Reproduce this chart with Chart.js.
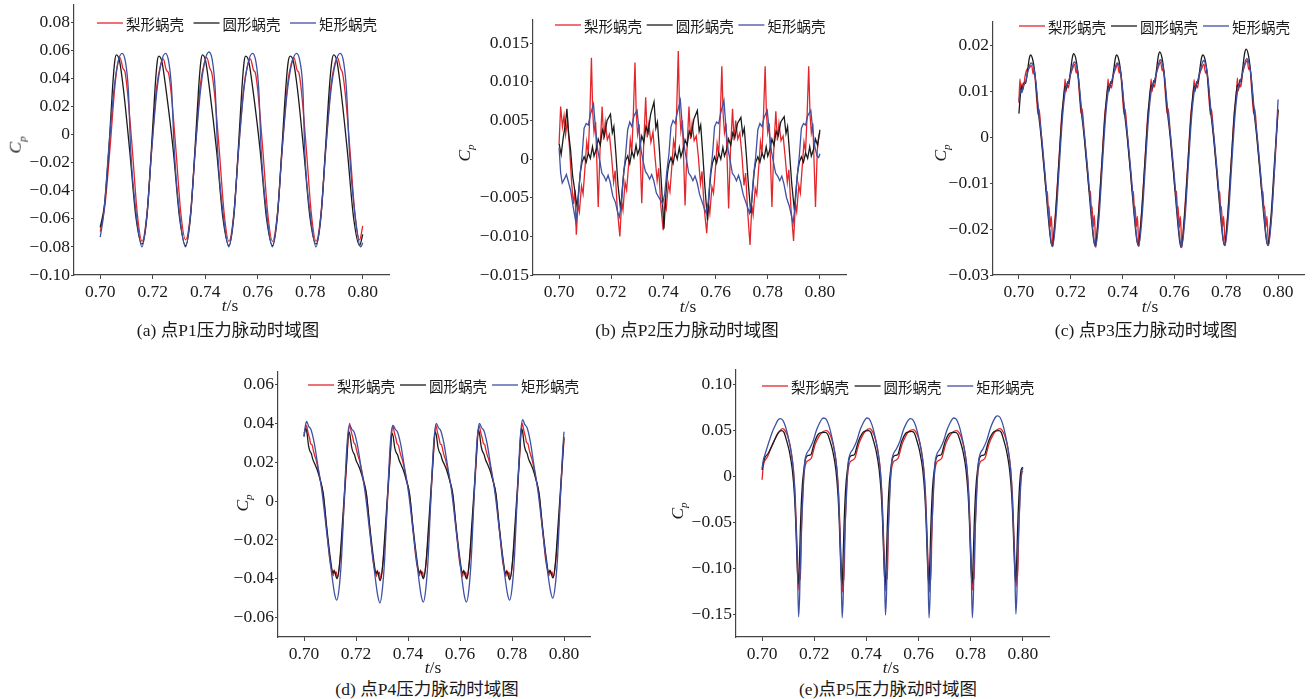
<!DOCTYPE html>
<html lang="zh">
<head>
<meta charset="utf-8">
<title>蜗壳压力脉动时域图</title>
<script src="https://cdn.jsdelivr.net/npm/chart.js@4.4.1/dist/chart.umd.min.js"></script>
<style>
  html, body { margin: 0; padding: 0; background: #fff; }
  #page { position: relative; width: 1313px; height: 699px; overflow: hidden; background: #fff; }
  canvas { position: absolute; }
  .lbl { position: absolute; font-family: "Liberation Serif", "Noto Sans CJK SC", serif; color: #1a1a1a; white-space: nowrap; transform: translate(-50%, -50%); line-height: 1; }
  .xt { font-size: 17.5px; }
  .yt { font-size: 17.5px; transform: translate(-50%, -50%) rotate(-90deg); }
  .yt sub { font-size: 11px; }
  .cap { font-size: 17.5px; }
</style>
</head>
<body>
<div id="page">
  <canvas id="ca"></canvas>
  <canvas id="cb"></canvas>
  <canvas id="cc"></canvas>
  <canvas id="cd"></canvas>
  <canvas id="ce"></canvas>

  <div class="lbl yt" style="left:17px;top:145px"><i>C</i><sub><i>p</i></sub></div>
  <div class="lbl yt" style="left:466px;top:153px"><i>C</i><sub><i>p</i></sub></div>
  <div class="lbl yt" style="left:942px;top:153px"><i>C</i><sub><i>p</i></sub></div>
  <div class="lbl yt" style="left:244px;top:503px"><i>C</i><sub><i>p</i></sub></div>
  <div class="lbl yt" style="left:679px;top:511px"><i>C</i><sub><i>p</i></sub></div>

  <div class="lbl xt" style="left:230px;top:306px"><i>t</i>/s</div>
  <div class="lbl xt" style="left:688px;top:307px"><i>t</i>/s</div>
  <div class="lbl xt" style="left:1150px;top:307px"><i>t</i>/s</div>
  <div class="lbl xt" style="left:433px;top:668px"><i>t</i>/s</div>
  <div class="lbl xt" style="left:891px;top:668px"><i>t</i>/s</div>

  <div class="lbl cap" style="left:228px;top:331px">(a) 点P1压力脉动时域图</div>
  <div class="lbl cap" style="left:687px;top:331px">(b) 点P2压力脉动时域图</div>
  <div class="lbl cap" style="left:1146px;top:331px">(c) 点P3压力脉动时域图</div>
  <div class="lbl cap" style="left:427px;top:690px">(d) 点P4压力脉动时域图</div>
  <div class="lbl cap" style="left:888px;top:690px">(e)点P5压力脉动时域图</div>
</div>
<script>
// series names / colours
const seriesNames = ["梨形蜗壳", "圆形蜗壳", "矩形蜗壳"];
const seriesColors = ["#e3262b", "#1b1b1b", "#3f51a3"];

// shared time axis
const xTicks = [0.70, 0.72, 0.74, 0.76, 0.78, 0.80];
const xLabels = ["0.70", "0.72", "0.74", "0.76", "0.78", "0.80"];

// ------- (a) P1 -------
const aTicks = [-0.10, -0.08, -0.06, -0.04, -0.02, 0, 0.02, 0.04, 0.06, 0.08];
const aLabels = ["−0.10", "−0.08", "−0.06", "−0.04", "−0.02", "0", "0.02", "0.04", "0.06", "0.08"];
const aRed = [
  [0.7000,-0.069],[0.7018,-0.050],[0.7037,-0.010],[0.7056,0.035],[0.7067,0.051],[0.7075,0.055],[0.7087,0.047],[0.7094,0.045],[0.7104,0.030],[0.7122,-0.010],[0.7141,-0.056],
  [0.7159,-0.076],[0.7178,-0.056],[0.7196,-0.010],[0.7215,0.034],[0.7230,0.050],[0.7240,0.054],[0.7252,0.046],[0.7260,0.044],[0.7270,0.030],[0.7288,-0.010],[0.7307,-0.056],
  [0.7325,-0.075],[0.7344,-0.056],[0.7362,-0.010],[0.7381,0.035],[0.7396,0.051],[0.7406,0.055],[0.7418,0.047],[0.7425,0.044],[0.7435,0.030],[0.7453,-0.010],[0.7472,-0.056],
  [0.7490,-0.076],[0.7509,-0.056],[0.7527,-0.010],[0.7547,0.034],[0.7562,0.050],[0.7572,0.054],[0.7584,0.046],[0.7591,0.044],[0.7601,0.030],[0.7619,-0.010],[0.7638,-0.056],
  [0.7656,-0.076],[0.7675,-0.056],[0.7693,-0.010],[0.7713,0.035],[0.7728,0.051],[0.7738,0.055],[0.7750,0.046],[0.7757,0.044],[0.7767,0.030],[0.7785,-0.010],[0.7804,-0.056],
  [0.7822,-0.076],[0.7841,-0.056],[0.7859,-0.010],[0.7879,0.035],[0.7894,0.051],[0.7904,0.055],[0.7916,0.047],[0.7923,0.044],[0.7933,0.030],[0.7951,-0.010],[0.7970,-0.056],
  [0.7988,-0.075],[0.8000,-0.065]
];
const aBlack = [
  [0.7000,-0.066],[0.7016,-0.050],[0.7033,-0.010],[0.7047,0.034],[0.7055,0.052],
  [0.7061,0.057],[0.7073,0.053],[0.7088,0.033],[0.7112,-0.011],[0.7136,-0.059],
  [0.7159,-0.078],[0.7178,-0.058],[0.7195,-0.010],[0.7209,0.034],[0.7217,0.052],
  [0.7223,0.056],[0.7235,0.052],[0.7250,0.033],[0.7278,-0.011],[0.7302,-0.059],
  [0.7325,-0.079],[0.7344,-0.058],[0.7361,-0.010],[0.7375,0.034],[0.7383,0.052],
  [0.7389,0.057],[0.7401,0.053],[0.7416,0.033],[0.7443,-0.011],[0.7467,-0.059],
  [0.7490,-0.079],[0.7509,-0.058],[0.7526,-0.010],[0.7540,0.034],[0.7548,0.052],
  [0.7554,0.056],[0.7566,0.052],[0.7581,0.033],[0.7609,-0.011],[0.7633,-0.059],
  [0.7656,-0.079],[0.7675,-0.058],[0.7692,-0.010],[0.7707,0.034],[0.7716,0.052],
  [0.7724,0.056],[0.7736,0.052],[0.7751,0.033],[0.7775,-0.011],[0.7799,-0.059],
  [0.7822,-0.078],[0.7841,-0.058],[0.7858,-0.010],[0.7873,0.034],[0.7882,0.052],
  [0.7889,0.057],[0.7901,0.053],[0.7916,0.033],[0.7941,-0.011],[0.7965,-0.059],
  [0.7988,-0.079],[0.8000,-0.071]
];
const aBlue = [
  [0.7000,-0.073],[0.7014,-0.055],[0.7032,-0.011],[0.7051,0.030],[0.7067,0.051],
  [0.7083,0.058],[0.7096,0.052],[0.7107,0.032],[0.7116,-0.011],[0.7138,-0.058],
  [0.7159,-0.080],[0.7178,-0.057],[0.7196,-0.011],[0.7215,0.030],[0.7232,0.051],
  [0.7248,0.058],[0.7261,0.052],[0.7272,0.032],[0.7282,-0.011],[0.7303,-0.058],
  [0.7325,-0.080],[0.7344,-0.057],[0.7362,-0.011],[0.7381,0.030],[0.7398,0.052],
  [0.7414,0.059],[0.7427,0.053],[0.7438,0.032],[0.7447,-0.011],[0.7469,-0.058],
  [0.7490,-0.080],[0.7509,-0.057],[0.7527,-0.011],[0.7546,0.030],[0.7563,0.051],
  [0.7580,0.058],[0.7593,0.052],[0.7604,0.032],[0.7613,-0.011],[0.7635,-0.058],
  [0.7656,-0.080],[0.7675,-0.057],[0.7693,-0.011],[0.7712,0.030],[0.7730,0.051],
  [0.7748,0.058],[0.7761,0.052],[0.7772,0.032],[0.7779,-0.011],[0.7801,-0.058],
  [0.7822,-0.080],[0.7841,-0.057],[0.7859,-0.011],[0.7878,0.030],[0.7896,0.051],
  [0.7914,0.058],[0.7927,0.052],[0.7938,0.032],[0.7949,-0.011],[0.7971,-0.058],
  [0.7992,-0.080],[0.8000,-0.077]
];

// ------- (b) P2 -------
const bTicks = [-0.015, -0.010, -0.005, 0, 0.005, 0.010, 0.015];
const bLabels = ["−0.015", "−0.010", "−0.005", "0", "0.005", "0.010", "0.015"];
const bRed = [
  [0.7000,0.0020],[0.7006,0.0068],[0.7013,0.0042],[0.7019,0.0056],[0.7025,0.0032],[0.7032,0.0050],[0.7040,0.0015],[0.7048,-0.0030],[0.7055,-0.0058],[0.7061,-0.0040],
  [0.7066,-0.0098],[0.7073,-0.0058],[0.7078,-0.0068],[0.7086,-0.0035],[0.7092,-0.0045],[0.7100,-0.0008],[0.7106,0.0022],[0.7112,0.0008],[0.7118,0.0058],[0.7124,0.0131],
  [0.7129,0.0060],[0.7134,0.0035],[0.7140,0.0048],[0.7150,-0.0062],[0.7157,0.0012],[0.7165,0.0068],[0.7171,0.0025],[0.7177,0.0048],[0.7185,0.0025],[0.7193,0.0032],
  [0.7201,0.0004],[0.7209,-0.0030],[0.7215,-0.0015],[0.7223,-0.0064],
  [0.7233,-0.0100],[0.7240,-0.0055],[0.7245,-0.0066],[0.7253,-0.0030],[0.7259,-0.0040],[0.7267,-0.0005],[0.7273,0.0025],[0.7279,0.0010],[0.7285,0.0062],[0.7291,0.0125],
  [0.7296,0.0058],[0.7301,0.0032],[0.7307,0.0045],[0.7317,-0.0057],[0.7324,0.0015],[0.7332,0.0080],[0.7338,0.0028],[0.7344,0.0045],[0.7352,0.0022],[0.7360,0.0035],
  [0.7368,0.0002],[0.7376,-0.0028],[0.7382,-0.0012],[0.7390,-0.0060],
  [0.7399,-0.0092],[0.7406,-0.0056],[0.7411,-0.0064],[0.7419,-0.0032],[0.7425,-0.0042],[0.7433,-0.0006],[0.7439,0.0024],[0.7445,0.0012],[0.7451,0.0065],[0.7457,0.0140],
  [0.7462,0.0062],[0.7467,0.0036],[0.7473,0.0050],[0.7483,-0.0060],[0.7490,0.0010],[0.7498,0.0068],[0.7504,0.0026],[0.7510,0.0046],[0.7518,0.0024],[0.7526,0.0030],
  [0.7534,0.0003],[0.7542,-0.0032],[0.7548,-0.0016],[0.7556,-0.0062],
  [0.7566,-0.0096],[0.7573,-0.0058],[0.7578,-0.0070],[0.7586,-0.0036],[0.7592,-0.0044],[0.7600,-0.0010],[0.7606,0.0020],[0.7612,0.0006],[0.7618,0.0056],[0.7624,0.0120],
  [0.7629,0.0058],[0.7634,0.0034],[0.7640,0.0046],[0.7650,-0.0064],[0.7657,0.0010],[0.7665,0.0065],[0.7671,0.0024],[0.7677,0.0050],[0.7685,0.0026],[0.7693,0.0034],
  [0.7701,0.0005],[0.7709,-0.0034],[0.7715,-0.0018],[0.7723,-0.0068],
  [0.7732,-0.0111],[0.7739,-0.0060],[0.7744,-0.0072],[0.7752,-0.0038],[0.7758,-0.0046],[0.7766,-0.0008],[0.7772,0.0022],[0.7778,0.0008],[0.7784,0.0060],[0.7790,0.0120],
  [0.7795,0.0058],[0.7800,0.0034],[0.7806,0.0046],[0.7816,-0.0062],[0.7823,0.0012],[0.7831,0.0062],[0.7837,0.0024],[0.7843,0.0046],[0.7851,0.0024],[0.7859,0.0030],
  [0.7867,0.0002],[0.7875,-0.0030],[0.7881,-0.0014],[0.7889,-0.0064],
  [0.7899,-0.0106],[0.7906,-0.0058],[0.7911,-0.0068],[0.7919,-0.0034],[0.7925,-0.0044],[0.7933,-0.0006],[0.7939,0.0022],[0.7945,0.0010],[0.7951,0.0058],[0.7957,0.0120],
  [0.7962,0.0058],[0.7967,0.0034],[0.7973,0.0046],[0.7983,-0.0062],[0.7990,0.0012],[0.7996,0.0030],[0.8000,0.0034]
];
const bBlack = [
  [0.7000,0.0020],[0.7008,0.0006],[0.7016,0.0028],[0.7024,0.0045],[0.7030,0.0065],[0.7037,0.0032],[0.7044,0.0012],[0.7052,-0.0022],[0.7060,-0.0040],[0.7069,-0.0062],
  [0.7076,-0.0038],[0.7082,-0.0016],[0.7088,-0.0004],[0.7096,0.0003],[0.7104,-0.0004],[0.7112,0.0008],[0.7120,0.0001],[0.7128,0.0016],[0.7134,0.0004],[0.7142,0.0012],
  [0.7150,0.0026],[0.7158,0.0018],[0.7166,0.0038],[0.7174,0.0030],[0.7184,0.0050],[0.7197,0.0058],[0.7204,0.0034],[0.7210,0.0042],[0.7218,0.0006],[0.7226,-0.0034],
  [0.7236,-0.0066],[0.7243,-0.0036],[0.7249,-0.0014],[0.7255,-0.0002],[0.7263,0.0004],[0.7271,-0.0006],[0.7279,0.0010],[0.7287,0.0002],[0.7295,0.0018],[0.7301,0.0006],
  [0.7309,0.0014],[0.7317,0.0030],[0.7325,0.0022],[0.7333,0.0042],[0.7341,0.0034],[0.7351,0.0058],[0.7364,0.0074],[0.7371,0.0040],[0.7377,0.0048],[0.7385,0.0010],[0.7393,-0.0036],
  [0.7402,-0.0090],[0.7409,-0.0048],[0.7415,-0.0020],[0.7421,-0.0006],[0.7429,0.0002],[0.7437,-0.0006],[0.7445,0.0009],[0.7453,0.0000],[0.7461,0.0015],[0.7467,0.0003],
  [0.7475,0.0012],[0.7483,0.0025],[0.7491,0.0018],[0.7499,0.0036],[0.7507,0.0030],[0.7517,0.0052],[0.7530,0.0063],[0.7537,0.0036],[0.7543,0.0044],[0.7551,0.0006],[0.7559,-0.0036],
  [0.7569,-0.0079],[0.7576,-0.0042],[0.7582,-0.0018],[0.7588,-0.0005],[0.7596,0.0003],[0.7604,-0.0005],[0.7612,0.0008],[0.7620,0.0000],[0.7628,0.0015],[0.7634,0.0004],
  [0.7642,0.0012],[0.7650,0.0026],[0.7658,0.0018],[0.7666,0.0034],[0.7674,0.0028],[0.7684,0.0046],[0.7697,0.0054],[0.7704,0.0032],[0.7710,0.0040],[0.7718,0.0005],[0.7726,-0.0034],
  [0.7735,-0.0070],[0.7742,-0.0040],[0.7748,-0.0016],[0.7754,-0.0004],[0.7762,0.0003],[0.7770,-0.0004],[0.7778,0.0008],[0.7786,0.0001],[0.7794,0.0016],[0.7800,0.0004],
  [0.7808,0.0012],[0.7816,0.0026],[0.7824,0.0018],[0.7832,0.0036],[0.7840,0.0030],[0.7850,0.0048],[0.7863,0.0055],[0.7870,0.0033],[0.7876,0.0042],[0.7884,0.0006],[0.7892,-0.0032],
  [0.7902,-0.0066],[0.7909,-0.0038],[0.7915,-0.0016],[0.7921,-0.0004],[0.7929,0.0003],[0.7937,-0.0004],[0.7945,0.0008],[0.7953,0.0001],[0.7961,0.0016],[0.7967,0.0004],
  [0.7975,0.0012],[0.7983,0.0026],[0.7991,0.0018],[0.8000,0.0038]
];
const bBlue = [
  [0.7000,0.0015],[0.7006,-0.0018],[0.7012,-0.0031],[0.7020,-0.0026],[0.7028,-0.0020],[0.7036,-0.0030],[0.7044,-0.0040],[0.7054,-0.0062],[0.7064,-0.0081],
  [0.7072,-0.0060],[0.7080,-0.0022],[0.7088,0.0004],[0.7096,0.0040],[0.7104,0.0046],[0.7112,0.0044],[0.7120,0.0058],[0.7132,0.0071],[0.7140,0.0038],[0.7148,0.0012],
  [0.7156,-0.0002],[0.7164,-0.0018],[0.7172,-0.0022],[0.7180,-0.0028],[0.7188,-0.0021],[0.7196,-0.0030],[0.7206,-0.0048],[0.7216,-0.0056],[0.7224,-0.0068],[0.7231,-0.0075],
  [0.7239,-0.0058],[0.7247,-0.0020],[0.7255,0.0006],[0.7263,0.0038],[0.7271,0.0048],[0.7279,0.0042],[0.7287,0.0056],[0.7299,0.0063],[0.7307,0.0036],[0.7315,0.0010],
  [0.7323,-0.0004],[0.7331,-0.0016],[0.7339,-0.0020],[0.7347,-0.0026],[0.7355,-0.0020],[0.7363,-0.0028],[0.7373,-0.0044],[0.7383,-0.0050],[0.7391,-0.0054],[0.7397,-0.0058],
  [0.7405,-0.0045],[0.7413,-0.0016],[0.7421,0.0006],[0.7429,0.0042],[0.7437,0.0050],[0.7445,0.0046],[0.7453,0.0060],[0.7465,0.0076],[0.7473,0.0040],[0.7481,0.0014],
  [0.7489,-0.0002],[0.7497,-0.0018],[0.7505,-0.0022],[0.7513,-0.0028],[0.7521,-0.0022],[0.7529,-0.0030],[0.7539,-0.0046],[0.7549,-0.0056],[0.7557,-0.0064],[0.7564,-0.0070],
  [0.7572,-0.0055],[0.7580,-0.0020],[0.7588,0.0005],[0.7596,0.0042],[0.7604,0.0048],[0.7612,0.0046],[0.7620,0.0060],[0.7632,0.0076],[0.7640,0.0040],[0.7648,0.0012],
  [0.7656,-0.0002],[0.7664,-0.0018],[0.7672,-0.0022],[0.7680,-0.0028],[0.7688,-0.0021],[0.7696,-0.0030],[0.7706,-0.0046],[0.7716,-0.0056],[0.7724,-0.0064],[0.7730,-0.0070],
  [0.7738,-0.0056],[0.7746,-0.0020],[0.7754,0.0004],[0.7762,0.0038],[0.7770,0.0046],[0.7778,0.0042],[0.7786,0.0054],[0.7798,0.0063],[0.7806,0.0036],[0.7814,0.0010],
  [0.7822,-0.0004],[0.7830,-0.0018],[0.7838,-0.0022],[0.7846,-0.0028],[0.7854,-0.0022],[0.7862,-0.0032],[0.7872,-0.0050],[0.7882,-0.0060],[0.7890,-0.0072],[0.7897,-0.0083],
  [0.7905,-0.0060],[0.7913,-0.0022],[0.7921,0.0004],[0.7929,0.0040],[0.7937,0.0046],[0.7945,0.0044],[0.7953,0.0056],[0.7965,0.0063],[0.7973,0.0036],[0.7981,0.0015],
  [0.7989,0.0004],[0.7995,0.0002],[0.8000,0.0007]
];

// ------- (c) P3 -------
const cTicks = [-0.03, -0.02, -0.01, 0, 0.01, 0.02];
const cLabels = ["−0.03", "−0.02", "−0.01", "0", "0.01", "0.02"];
const cRed = [
  [0.7000,0.0075],[0.7004,0.0128],[0.7008,0.0100],[0.7012,0.0118],[0.7017,0.0108],[0.7024,0.0135],[0.7033,0.0150],[0.7041,0.0152],
  [0.7049,0.0158],[0.7055,0.0138],[0.7059,0.0148],[0.7065,0.0110],[0.7070,0.0072],[0.7074,0.0050],[0.7078,0.0062],[0.7086,0.0008],[0.7099,-0.0075],[0.7107,-0.0122],
  [0.7110,-0.0118],[0.7113,-0.0155],[0.7116,-0.0150],[0.7121,-0.0195],[0.7125,-0.0172],[0.7131,-0.0238],[0.7136,-0.0200],[0.7141,-0.0165],[0.7154,-0.0055],[0.7166,0.0055],
  [0.7174,0.0090],[0.7178,0.0128],[0.7182,0.0100],[0.7186,0.0118],[0.7191,0.0108],[0.7198,0.0135],[0.7207,0.0150],
  [0.7215,0.0160],[0.7221,0.0140],[0.7225,0.0150],[0.7231,0.0112],[0.7236,0.0074],[0.7240,0.0052],[0.7244,0.0063],[0.7252,0.0008],[0.7265,-0.0075],[0.7273,-0.0122],
  [0.7276,-0.0117],[0.7279,-0.0155],[0.7282,-0.0150],[0.7287,-0.0195],[0.7291,-0.0170],[0.7297,-0.0240],[0.7302,-0.0200],[0.7307,-0.0165],[0.7320,-0.0055],[0.7332,0.0055],
  [0.7340,0.0090],[0.7344,0.0128],[0.7348,0.0100],[0.7352,0.0118],[0.7357,0.0108],[0.7364,0.0135],[0.7373,0.0150],
  [0.7381,0.0160],[0.7387,0.0140],[0.7391,0.0148],[0.7397,0.0110],[0.7402,0.0072],[0.7406,0.0050],[0.7410,0.0062],[0.7418,0.0008],[0.7431,-0.0075],[0.7439,-0.0122],
  [0.7442,-0.0118],[0.7445,-0.0155],[0.7448,-0.0150],[0.7453,-0.0195],[0.7457,-0.0172],[0.7463,-0.0238],[0.7468,-0.0200],[0.7473,-0.0165],[0.7486,-0.0055],[0.7498,0.0055],
  [0.7506,0.0090],[0.7510,0.0128],[0.7514,0.0100],[0.7518,0.0118],[0.7523,0.0110],[0.7530,0.0138],[0.7539,0.0155],
  [0.7547,0.0165],[0.7553,0.0145],[0.7557,0.0152],[0.7563,0.0112],[0.7568,0.0074],[0.7572,0.0052],[0.7576,0.0063],[0.7584,0.0008],[0.7597,-0.0075],[0.7605,-0.0122],
  [0.7608,-0.0117],[0.7611,-0.0155],[0.7614,-0.0150],[0.7619,-0.0197],[0.7623,-0.0172],[0.7629,-0.0240],[0.7634,-0.0200],[0.7639,-0.0165],[0.7652,-0.0055],[0.7664,0.0055],
  [0.7672,0.0090],[0.7676,0.0126],[0.7680,0.0100],[0.7684,0.0118],[0.7689,0.0108],[0.7696,0.0135],[0.7705,0.0150],
  [0.7714,0.0160],[0.7720,0.0140],[0.7724,0.0148],[0.7730,0.0110],[0.7735,0.0072],[0.7739,0.0050],[0.7743,0.0062],[0.7751,0.0008],[0.7764,-0.0075],[0.7772,-0.0122],
  [0.7775,-0.0118],[0.7778,-0.0155],[0.7781,-0.0150],[0.7786,-0.0195],[0.7790,-0.0172],[0.7796,-0.0236],[0.7801,-0.0200],[0.7806,-0.0165],[0.7819,-0.0055],[0.7831,0.0055],
  [0.7839,0.0092],[0.7843,0.0130],[0.7847,0.0102],[0.7851,0.0120],[0.7856,0.0110],[0.7863,0.0140],[0.7872,0.0158],
  [0.7881,0.0168],[0.7887,0.0148],[0.7891,0.0155],[0.7897,0.0112],[0.7902,0.0074],[0.7906,0.0052],[0.7910,0.0063],[0.7918,0.0008],[0.7931,-0.0075],[0.7939,-0.0122],
  [0.7942,-0.0118],[0.7945,-0.0155],[0.7948,-0.0150],[0.7953,-0.0195],[0.7957,-0.0172],[0.7963,-0.0236],[0.7970,-0.0200],[0.7975,-0.0168],[0.7988,-0.0055],[0.8000,0.0062]
];
const cBlack = [
  [0.7000,0.0052],[0.7006,0.0095],[0.7011,0.0112],[0.7015,0.0105],[0.7020,0.0120],[0.7026,0.0118],[0.7032,0.0140],[0.7040,0.0172],
  [0.7045,0.0180],[0.7054,0.0168],[0.7063,0.0132],[0.7073,0.0068],[0.7086,0.0000],[0.7099,-0.0080],[0.7112,-0.0166],[0.7122,-0.0222],
  [0.7128,-0.0237],[0.7141,-0.0172],[0.7154,-0.0057],[0.7167,0.0052],[0.7178,0.0112],[0.7183,0.0105],[0.7188,0.0122],[0.7192,0.0118],[0.7198,0.0140],[0.7206,0.0174],
  [0.7211,0.0183],[0.7220,0.0171],[0.7229,0.0134],[0.7239,0.0068],[0.7252,0.0000],[0.7265,-0.0080],[0.7278,-0.0166],[0.7288,-0.0222],
  [0.7294,-0.0237],[0.7307,-0.0172],[0.7320,-0.0057],[0.7333,0.0052],[0.7344,0.0112],[0.7349,0.0105],[0.7354,0.0122],[0.7358,0.0118],[0.7364,0.0140],[0.7372,0.0172],
  [0.7377,0.0180],[0.7386,0.0168],[0.7395,0.0132],[0.7405,0.0068],[0.7418,0.0000],[0.7431,-0.0080],[0.7444,-0.0165],[0.7454,-0.0220],
  [0.7460,-0.0235],[0.7473,-0.0170],[0.7486,-0.0055],[0.7499,0.0054],[0.7510,0.0114],[0.7515,0.0107],[0.7520,0.0124],[0.7524,0.0120],[0.7530,0.0144],[0.7538,0.0178],
  [0.7543,0.0187],[0.7552,0.0174],[0.7561,0.0136],[0.7571,0.0068],[0.7584,0.0000],[0.7597,-0.0081],[0.7610,-0.0168],[0.7620,-0.0225],
  [0.7626,-0.0240],[0.7639,-0.0174],[0.7652,-0.0058],[0.7665,0.0052],[0.7676,0.0112],[0.7681,0.0105],[0.7686,0.0122],[0.7690,0.0118],[0.7696,0.0140],[0.7704,0.0172],
  [0.7710,0.0180],[0.7719,0.0168],[0.7728,0.0132],[0.7738,0.0068],[0.7751,0.0000],[0.7764,-0.0080],[0.7777,-0.0165],[0.7787,-0.0220],
  [0.7793,-0.0235],[0.7806,-0.0170],[0.7819,-0.0055],[0.7832,0.0055],[0.7843,0.0115],[0.7848,0.0108],[0.7853,0.0126],[0.7857,0.0122],[0.7863,0.0148],[0.7871,0.0184],
  [0.7877,0.0193],[0.7886,0.0178],[0.7895,0.0138],[0.7905,0.0070],[0.7918,0.0000],[0.7931,-0.0080],[0.7944,-0.0165],[0.7954,-0.0220],
  [0.7960,-0.0235],[0.7973,-0.0170],[0.7986,-0.0055],[0.8000,0.0060]
];
const cBlue = [
  [0.7000,0.0080],[0.7006,0.0102],[0.7012,0.0098],[0.7018,0.0114],[0.7026,0.0122],[0.7034,0.0142],[0.7041,0.0157],
  [0.7047,0.0163],[0.7056,0.0155],[0.7065,0.0123],[0.7075,0.0064],[0.7088,0.0000],[0.7101,-0.0080],[0.7114,-0.0168],[0.7124,-0.0225],
  [0.7130,-0.0238],[0.7143,-0.0175],[0.7156,-0.0060],[0.7169,0.0050],[0.7180,0.0105],[0.7190,0.0120],[0.7200,0.0140],[0.7208,0.0158],
  [0.7213,0.0165],[0.7222,0.0157],[0.7231,0.0124],[0.7241,0.0064],[0.7254,0.0000],[0.7267,-0.0080],[0.7280,-0.0168],[0.7290,-0.0225],
  [0.7296,-0.0238],[0.7309,-0.0175],[0.7322,-0.0060],[0.7335,0.0050],[0.7346,0.0105],[0.7356,0.0120],[0.7366,0.0140],[0.7374,0.0157],
  [0.7379,0.0163],[0.7388,0.0155],[0.7397,0.0123],[0.7407,0.0064],[0.7420,0.0000],[0.7433,-0.0080],[0.7446,-0.0168],[0.7456,-0.0225],
  [0.7462,-0.0237],[0.7475,-0.0175],[0.7488,-0.0060],[0.7501,0.0050],[0.7512,0.0106],[0.7522,0.0122],[0.7532,0.0144],[0.7540,0.0163],
  [0.7545,0.0170],[0.7554,0.0161],[0.7563,0.0127],[0.7573,0.0065],[0.7586,0.0000],[0.7599,-0.0080],[0.7612,-0.0170],[0.7622,-0.0226],
  [0.7628,-0.0238],[0.7641,-0.0175],[0.7654,-0.0060],[0.7667,0.0050],[0.7678,0.0105],[0.7688,0.0121],[0.7698,0.0142],[0.7706,0.0160],
  [0.7712,0.0168],[0.7721,0.0159],[0.7730,0.0126],[0.7740,0.0065],[0.7753,0.0000],[0.7766,-0.0080],[0.7779,-0.0168],[0.7789,-0.0224],
  [0.7795,-0.0236],[0.7808,-0.0174],[0.7821,-0.0060],[0.7834,0.0050],[0.7845,0.0106],[0.7855,0.0123],[0.7865,0.0146],[0.7873,0.0165],
  [0.7879,0.0172],[0.7888,0.0162],[0.7897,0.0128],[0.7907,0.0066],[0.7920,0.0000],[0.7933,-0.0080],[0.7946,-0.0168],[0.7956,-0.0224],
  [0.7962,-0.0236],[0.7975,-0.0174],[0.7988,-0.0050],[0.8000,0.0083]
];

// ------- (d) P4 -------
const dTicks = [-0.06, -0.04, -0.02, 0, 0.02, 0.04, 0.06];
const dLabels = ["−0.06", "−0.04", "−0.02", "0", "0.02", "0.04", "0.06"];
const dRed = [
  [0.7000,0.0350],[0.7005,0.0370],[0.7009,0.0390],[0.7016,0.0350],[0.7022,0.0320],[0.7026,0.0295],[0.7031,0.0290],[0.7036,0.0260],[0.7042,0.0230],[0.7046,0.0215],
  [0.7052,0.0180],[0.7061,0.0120],[0.7074,0.0030],[0.7087,-0.0140],[0.7100,-0.0310],[0.7108,-0.0360],[0.7112,-0.0385],[0.7116,-0.0355],[0.7120,-0.0375],[0.7124,-0.0365],
  [0.7129,-0.0395],[0.7139,-0.0300],[0.7150,-0.0110],[0.7166,0.0240],
  [0.7175,0.0400],[0.7182,0.0355],[0.7188,0.0325],[0.7192,0.0300],[0.7197,0.0292],[0.7202,0.0262],[0.7208,0.0232],[0.7212,0.0216],[0.7218,0.0182],[0.7227,0.0122],
  [0.7240,0.0032],[0.7253,-0.0140],[0.7266,-0.0310],[0.7274,-0.0362],[0.7278,-0.0388],[0.7282,-0.0356],[0.7286,-0.0378],[0.7290,-0.0366],
  [0.7295,-0.0400],[0.7305,-0.0302],[0.7316,-0.0110],[0.7332,0.0240],
  [0.7341,0.0390],[0.7348,0.0350],[0.7354,0.0320],[0.7358,0.0295],[0.7363,0.0288],[0.7368,0.0258],[0.7374,0.0228],[0.7378,0.0214],[0.7384,0.0180],[0.7393,0.0120],
  [0.7406,0.0030],[0.7419,-0.0140],[0.7432,-0.0310],[0.7440,-0.0360],[0.7444,-0.0385],[0.7448,-0.0355],[0.7452,-0.0375],[0.7456,-0.0365],
  [0.7461,-0.0395],[0.7471,-0.0300],[0.7482,-0.0110],[0.7498,0.0240],
  [0.7507,0.0390],[0.7514,0.0350],[0.7520,0.0320],[0.7524,0.0295],[0.7529,0.0290],[0.7534,0.0260],[0.7540,0.0230],[0.7544,0.0215],[0.7550,0.0180],[0.7559,0.0120],
  [0.7572,0.0030],[0.7585,-0.0140],[0.7598,-0.0310],[0.7606,-0.0362],[0.7610,-0.0388],[0.7614,-0.0356],[0.7618,-0.0378],[0.7622,-0.0366],
  [0.7627,-0.0400],[0.7637,-0.0302],[0.7648,-0.0110],[0.7664,0.0240],
  [0.7673,0.0390],[0.7680,0.0352],[0.7686,0.0322],[0.7690,0.0297],[0.7695,0.0291],[0.7700,0.0261],[0.7706,0.0231],[0.7710,0.0216],[0.7716,0.0181],[0.7725,0.0121],
  [0.7738,0.0031],[0.7751,-0.0140],[0.7764,-0.0310],[0.7772,-0.0362],[0.7776,-0.0388],[0.7780,-0.0356],[0.7784,-0.0378],[0.7788,-0.0366],
  [0.7793,-0.0400],[0.7803,-0.0302],[0.7814,-0.0110],[0.7830,0.0245],
  [0.7839,0.0400],[0.7846,0.0360],[0.7852,0.0328],[0.7856,0.0302],[0.7861,0.0296],[0.7866,0.0266],[0.7872,0.0236],[0.7876,0.0220],[0.7882,0.0186],[0.7891,0.0124],
  [0.7904,0.0032],[0.7917,-0.0138],[0.7930,-0.0308],[0.7938,-0.0360],[0.7942,-0.0385],[0.7946,-0.0355],[0.7950,-0.0375],[0.7954,-0.0365],
  [0.7959,-0.0395],[0.7969,-0.0300],[0.7980,-0.0110],[0.7996,0.0240],[0.8000,0.0320]
];
const dBlack = [
  [0.7000,0.0335],[0.7006,0.0375],[0.7011,0.0355],[0.7017,0.0290],[0.7022,0.0260],[0.7028,0.0245],[0.7034,0.0215],[0.7042,0.0190],[0.7051,0.0160],[0.7061,0.0115],
  [0.7074,0.0040],[0.7087,-0.0130],[0.7102,-0.0300],[0.7111,-0.0370],[0.7116,-0.0360],[0.7127,-0.0400],[0.7137,-0.0320],[0.7147,-0.0130],[0.7164,0.0210],
  [0.7172,0.0357],[0.7177,0.0340],[0.7183,0.0280],[0.7188,0.0255],[0.7194,0.0240],[0.7200,0.0210],[0.7208,0.0188],[0.7217,0.0158],[0.7227,0.0112],
  [0.7240,0.0038],[0.7253,-0.0132],[0.7268,-0.0302],[0.7277,-0.0372],[0.7282,-0.0362],[0.7293,-0.0410],[0.7303,-0.0325],[0.7313,-0.0132],[0.7330,0.0205],
  [0.7338,0.0350],[0.7343,0.0333],[0.7349,0.0275],[0.7354,0.0252],[0.7360,0.0238],[0.7366,0.0210],[0.7374,0.0186],[0.7383,0.0156],[0.7393,0.0110],
  [0.7406,0.0038],[0.7419,-0.0130],[0.7434,-0.0300],[0.7443,-0.0370],[0.7448,-0.0360],[0.7459,-0.0400],[0.7469,-0.0320],[0.7479,-0.0130],[0.7496,0.0210],
  [0.7504,0.0357],[0.7509,0.0340],[0.7515,0.0280],[0.7520,0.0255],[0.7526,0.0240],[0.7532,0.0212],[0.7540,0.0188],[0.7549,0.0158],[0.7559,0.0112],
  [0.7572,0.0040],[0.7585,-0.0130],[0.7600,-0.0300],[0.7609,-0.0370],[0.7614,-0.0360],[0.7625,-0.0400],[0.7635,-0.0322],[0.7645,-0.0130],[0.7662,0.0212],
  [0.7670,0.0366],[0.7675,0.0348],[0.7681,0.0285],[0.7686,0.0258],[0.7692,0.0242],[0.7698,0.0214],[0.7706,0.0190],[0.7715,0.0160],[0.7725,0.0114],
  [0.7738,0.0040],[0.7751,-0.0130],[0.7766,-0.0302],[0.7775,-0.0372],[0.7780,-0.0362],[0.7791,-0.0405],[0.7801,-0.0325],[0.7811,-0.0132],[0.7828,0.0215],
  [0.7836,0.0374],[0.7841,0.0355],[0.7847,0.0290],[0.7852,0.0262],[0.7858,0.0246],[0.7864,0.0216],[0.7872,0.0192],[0.7881,0.0162],[0.7891,0.0116],
  [0.7904,0.0042],[0.7917,-0.0128],[0.7932,-0.0298],[0.7941,-0.0368],[0.7946,-0.0358],[0.7957,-0.0395],[0.7967,-0.0318],[0.7977,-0.0128],[0.7994,0.0210],[0.8000,0.0330]
];
const dBlue = [
  [0.7000,0.0331],[0.7005,0.0385],[0.7010,0.0410],[0.7018,0.0385],[0.7027,0.0368],[0.7039,0.0302],[0.7051,0.0202],[0.7070,0.0040],[0.7089,-0.0182],[0.7108,-0.0390],[0.7118,-0.0480],
  [0.7126,-0.0510],[0.7135,-0.0450],[0.7144,-0.0300],[0.7153,-0.0040],[0.7164,0.0260],[0.7170,0.0360],
  [0.7176,0.0390],[0.7184,0.0370],[0.7193,0.0355],[0.7205,0.0292],[0.7217,0.0195],[0.7236,0.0035],[0.7255,-0.0185],[0.7274,-0.0395],[0.7284,-0.0490],
  [0.7292,-0.0525],[0.7301,-0.0460],[0.7310,-0.0305],[0.7319,-0.0045],[0.7330,0.0255],[0.7336,0.0355],
  [0.7343,0.0390],[0.7351,0.0370],[0.7360,0.0355],[0.7372,0.0292],[0.7384,0.0195],[0.7403,0.0035],[0.7422,-0.0185],[0.7441,-0.0395],[0.7451,-0.0490],
  [0.7459,-0.0520],[0.7468,-0.0458],[0.7477,-0.0305],[0.7486,-0.0045],[0.7497,0.0260],[0.7503,0.0360],
  [0.7509,0.0400],[0.7517,0.0378],[0.7526,0.0362],[0.7538,0.0298],[0.7550,0.0200],[0.7569,0.0038],[0.7588,-0.0185],[0.7607,-0.0395],[0.7617,-0.0490],
  [0.7625,-0.0520],[0.7634,-0.0458],[0.7643,-0.0305],[0.7652,-0.0045],[0.7663,0.0260],[0.7669,0.0360],
  [0.7675,0.0400],[0.7683,0.0378],[0.7692,0.0362],[0.7704,0.0298],[0.7716,0.0200],[0.7735,0.0038],[0.7754,-0.0182],[0.7773,-0.0390],[0.7783,-0.0480],
  [0.7791,-0.0510],[0.7800,-0.0450],[0.7809,-0.0300],[0.7818,-0.0040],[0.7829,0.0265],[0.7835,0.0375],
  [0.7841,0.0420],[0.7849,0.0395],[0.7858,0.0378],[0.7870,0.0310],[0.7882,0.0205],[0.7901,0.0040],[0.7920,-0.0180],[0.7939,-0.0385],[0.7949,-0.0470],
  [0.7957,-0.0500],[0.7966,-0.0440],[0.7975,-0.0295],[0.7984,-0.0040],[0.7995,0.0260],[0.8000,0.0357]
];

// ------- (e) P5 -------
const eTicks = [-0.15, -0.10, -0.05, 0, 0.05, 0.10];
const eLabels = ["−0.15", "−0.10", "−0.05", "0", "0.05", "0.10"];
const eRed = [
  [0.7000,-0.0036],[0.7005,0.0120],[0.7010,0.0170],[0.7020,0.0210],[0.7030,0.0280],[0.7045,0.0380],[0.7060,0.0470],[0.7072,0.0510],
  [0.7080,0.0520],[0.7088,0.0500],[0.7098,0.0440],[0.7110,0.0300],[0.7120,0.0080],[0.7127,-0.0220],[0.7132,-0.0600],[0.7137,-0.1000],
  [0.7141,-0.1240],[0.7145,-0.1050],[0.7147,-0.1120],[0.7151,-0.0600],[0.7157,-0.0120],[0.7163,0.0080],[0.7171,0.0160],[0.7181,0.0180],[0.7189,0.0200],[0.7197,0.0280],[0.7205,0.0360],[0.7219,0.0440],[0.7231,0.0485],
  [0.7247,0.0500],[0.7255,0.0482],[0.7265,0.0425],[0.7277,0.0290],[0.7287,0.0078],[0.7294,-0.0220],[0.7299,-0.0600],[0.7304,-0.1000],
  [0.7308,-0.1260],[0.7312,-0.1060],[0.7314,-0.1130],[0.7318,-0.0600],[0.7324,-0.0120],[0.7330,0.0080],[0.7338,0.0160],[0.7348,0.0180],[0.7356,0.0200],[0.7364,0.0280],[0.7372,0.0360],[0.7386,0.0450],[0.7398,0.0500],
  [0.7413,0.0520],[0.7421,0.0500],[0.7431,0.0440],[0.7443,0.0300],[0.7453,0.0080],[0.7460,-0.0220],[0.7465,-0.0600],[0.7470,-0.1000],
  [0.7474,-0.1250],[0.7478,-0.1050],[0.7480,-0.1120],[0.7484,-0.0600],[0.7490,-0.0120],[0.7496,0.0080],[0.7504,0.0160],[0.7514,0.0180],[0.7522,0.0200],[0.7530,0.0280],[0.7538,0.0360],[0.7552,0.0448],[0.7564,0.0495],
  [0.7580,0.0510],[0.7588,0.0490],[0.7598,0.0432],[0.7610,0.0295],[0.7620,0.0079],[0.7627,-0.0220],[0.7632,-0.0600],[0.7637,-0.1000],
  [0.7641,-0.1260],[0.7645,-0.1060],[0.7647,-0.1130],[0.7651,-0.0600],[0.7657,-0.0120],[0.7663,0.0080],[0.7671,0.0160],[0.7681,0.0180],[0.7689,0.0200],[0.7697,0.0280],[0.7705,0.0360],[0.7719,0.0440],[0.7731,0.0485],
  [0.7746,0.0500],[0.7754,0.0482],[0.7764,0.0425],[0.7776,0.0290],[0.7786,0.0078],[0.7793,-0.0220],[0.7798,-0.0600],[0.7803,-0.1000],
  [0.7807,-0.1240],[0.7811,-0.1050],[0.7813,-0.1120],[0.7817,-0.0600],[0.7823,-0.0120],[0.7829,0.0080],[0.7837,0.0160],[0.7847,0.0180],[0.7855,0.0200],[0.7863,0.0280],[0.7871,0.0360],[0.7885,0.0450],[0.7897,0.0500],
  [0.7913,0.0520],[0.7921,0.0500],[0.7931,0.0440],[0.7943,0.0300],[0.7953,0.0080],[0.7960,-0.0220],[0.7965,-0.0600],[0.7970,-0.0980],
  [0.7974,-0.1200],[0.7978,-0.1020],[0.7980,-0.1090],[0.7984,-0.0600],[0.7990,-0.0120],[0.7996,0.0040],[0.8000,0.0060]
];
const eBlack = [
  [0.7000,0.0070],[0.7005,0.0150],[0.7010,0.0200],[0.7023,0.0250],[0.7032,0.0300],[0.7042,0.0360],[0.7061,0.0470],
  [0.7074,0.0500],[0.7084,0.0480],[0.7093,0.0400],[0.7104,0.0280],[0.7116,0.0070],[0.7124,-0.0200],[0.7129,-0.0500],[0.7135,-0.1000],
  [0.7139,-0.1170],[0.7143,-0.0950],[0.7147,-0.0550],[0.7153,-0.0150],[0.7160,0.0070],[0.7169,0.0210],[0.7179,0.0230],[0.7188,0.0240],[0.7195,0.0310],[0.7202,0.0380],[0.7217,0.0465],[0.7229,0.0478],
  [0.7241,0.0480],[0.7251,0.0462],[0.7260,0.0390],[0.7271,0.0275],[0.7283,0.0068],[0.7291,-0.0200],[0.7296,-0.0500],[0.7302,-0.1010],
  [0.7306,-0.1190],[0.7310,-0.0960],[0.7314,-0.0550],[0.7320,-0.0150],[0.7327,0.0070],[0.7336,0.0210],[0.7346,0.0230],[0.7355,0.0240],[0.7362,0.0310],[0.7369,0.0380],[0.7384,0.0470],[0.7396,0.0495],
  [0.7407,0.0500],[0.7417,0.0480],[0.7426,0.0400],[0.7437,0.0280],[0.7449,0.0070],[0.7457,-0.0200],[0.7462,-0.0500],[0.7468,-0.1000],
  [0.7472,-0.1180],[0.7476,-0.0955],[0.7480,-0.0550],[0.7486,-0.0150],[0.7493,0.0070],[0.7502,0.0210],[0.7512,0.0230],[0.7521,0.0240],[0.7528,0.0310],[0.7535,0.0380],[0.7550,0.0468],[0.7562,0.0485],
  [0.7574,0.0490],[0.7584,0.0470],[0.7593,0.0395],[0.7604,0.0278],[0.7616,0.0070],[0.7624,-0.0200],[0.7629,-0.0500],[0.7635,-0.1000],
  [0.7639,-0.1180],[0.7643,-0.0955],[0.7647,-0.0550],[0.7653,-0.0150],[0.7660,0.0070],[0.7669,0.0210],[0.7679,0.0230],[0.7688,0.0240],[0.7695,0.0310],[0.7702,0.0380],[0.7717,0.0465],[0.7729,0.0478],
  [0.7740,0.0480],[0.7750,0.0462],[0.7759,0.0390],[0.7770,0.0275],[0.7782,0.0068],[0.7790,-0.0200],[0.7795,-0.0500],[0.7801,-0.1000],
  [0.7805,-0.1170],[0.7809,-0.0950],[0.7813,-0.0550],[0.7819,-0.0150],[0.7826,0.0070],[0.7835,0.0210],[0.7845,0.0230],[0.7854,0.0240],[0.7861,0.0310],[0.7868,0.0380],[0.7883,0.0470],[0.7895,0.0495],
  [0.7907,0.0500],[0.7917,0.0480],[0.7926,0.0400],[0.7937,0.0280],[0.7949,0.0070],[0.7957,-0.0200],[0.7962,-0.0500],[0.7968,-0.0980],
  [0.7972,-0.1150],[0.7976,-0.0930],[0.7980,-0.0540],[0.7986,-0.0150],[0.7993,0.0070],[0.8000,0.0100]
];
const eBlue = [
  [0.7000,0.0090],[0.7005,0.0180],[0.7010,0.0230],[0.7020,0.0320],[0.7029,0.0400],[0.7040,0.0490],[0.7049,0.0546],[0.7060,0.0610],
  [0.7069,0.0630],[0.7079,0.0615],[0.7089,0.0550],[0.7100,0.0430],[0.7111,0.0270],[0.7120,0.0070],[0.7126,-0.0200],[0.7131,-0.0580],[0.7136,-0.1050],
  [0.7140,-0.1530],[0.7144,-0.1300],[0.7147,-0.0910],[0.7152,-0.0500],[0.7157,-0.0180],[0.7163,0.0140],[0.7170,0.0240],[0.7180,0.0290],[0.7195,0.0380],[0.7208,0.0500],[0.7220,0.0580],[0.7230,0.0627],
  [0.7236,0.0637],[0.7246,0.0622],[0.7256,0.0556],[0.7267,0.0435],[0.7278,0.0272],[0.7287,0.0070],[0.7293,-0.0200],[0.7298,-0.0580],[0.7303,-0.1050],
  [0.7307,-0.1540],[0.7311,-0.1310],[0.7314,-0.0915],[0.7319,-0.0500],[0.7324,-0.0180],[0.7330,0.0140],[0.7337,0.0240],[0.7347,0.0290],[0.7362,0.0380],[0.7375,0.0500],[0.7387,0.0580],[0.7397,0.0627],
  [0.7402,0.0637],[0.7412,0.0622],[0.7422,0.0556],[0.7433,0.0435],[0.7444,0.0272],[0.7453,0.0070],[0.7459,-0.0200],[0.7464,-0.0580],[0.7469,-0.1040],
  [0.7473,-0.1510],[0.7477,-0.1280],[0.7480,-0.0900],[0.7485,-0.0500],[0.7490,-0.0180],[0.7496,0.0140],[0.7503,0.0240],[0.7513,0.0290],[0.7528,0.0380],[0.7541,0.0500],[0.7553,0.0578],[0.7563,0.0622],
  [0.7569,0.0630],[0.7579,0.0615],[0.7589,0.0550],[0.7600,0.0430],[0.7611,0.0270],[0.7620,0.0070],[0.7626,-0.0200],[0.7631,-0.0580],[0.7636,-0.1050],
  [0.7640,-0.1540],[0.7644,-0.1310],[0.7647,-0.0915],[0.7652,-0.0500],[0.7657,-0.0180],[0.7663,0.0140],[0.7670,0.0240],[0.7680,0.0290],[0.7695,0.0380],[0.7708,0.0500],[0.7720,0.0580],[0.7730,0.0627],
  [0.7735,0.0637],[0.7745,0.0622],[0.7755,0.0556],[0.7766,0.0435],[0.7777,0.0272],[0.7786,0.0070],[0.7792,-0.0200],[0.7797,-0.0580],[0.7802,-0.1050],
  [0.7806,-0.1540],[0.7810,-0.1310],[0.7813,-0.0915],[0.7818,-0.0500],[0.7823,-0.0180],[0.7829,0.0140],[0.7836,0.0245],[0.7846,0.0295],[0.7861,0.0390],[0.7874,0.0515],[0.7886,0.0600],[0.7896,0.0650],
  [0.7902,0.0660],[0.7912,0.0645],[0.7922,0.0575],[0.7933,0.0450],[0.7944,0.0282],[0.7953,0.0072],[0.7959,-0.0200],[0.7964,-0.0570],[0.7969,-0.1020],
  [0.7973,-0.1500],[0.7977,-0.1270],[0.7980,-0.0900],[0.7985,-0.0500],[0.7990,-0.0180],[0.7995,0.0040],[0.8000,0.0090]
];

// legend drawn inside the plot, like the original figure
const inlineLegend = {
  id: "inlineLegend",
  afterDraw(chart, args, opts) {
    const ctx = chart.ctx;
    const area = chart.chartArea;
    ctx.save();
    ctx.font = '14.5px "Noto Sans CJK SC", sans-serif';
    ctx.textBaseline = "middle";
    chart.data.datasets.forEach((ds, i) => {
      const x = area.left + opts.x + i * opts.pitch;
      const y = area.top + opts.y;
      ctx.strokeStyle = ds.borderColor;
      ctx.lineWidth = 1.3;
      ctx.beginPath();
      ctx.moveTo(x, y);
      ctx.lineTo(x + 26, y);
      ctx.stroke();
      ctx.fillStyle = "#1a1a1a";
      ctx.fillText(ds.label, x + 29, y + 1);
    });
    ctx.restore();
  }
};

function toPoints(pairs) {
  return pairs.map(p => ({ x: p[0], y: p[1] }));
}

function drawPanel(id, box, series, yMin, yMax, yTicks, yLabels, legendPos, smooth) {
  // box: canvas position and the plot area inside the page
  const canvas = document.getElementById(id);
  canvas.width = box.w;
  canvas.height = box.h;
  canvas.style.left = box.left + "px";
  canvas.style.top = box.top + "px";
  const [L, T, R, B] = box.area;

  const font = { family: "Liberation Serif", size: 17.5 };
  const axisColor = "#444";

  new Chart(canvas, {
    type: "line",
    data: {
      datasets: series.map((s, i) => ({
        label: seriesNames[i],
        data: toPoints(s),
        borderColor: seriesColors[i],
        backgroundColor: seriesColors[i],
        borderWidth: 1.3,
        pointRadius: 0,
        fill: false,
        tension: smooth ? 0.4 : 0,
        cubicInterpolationMode: smooth ? "monotone" : "default",
        order: 3 - i
      }))
    },
    options: {
      responsive: false,
      animation: false,
      devicePixelRatio: 1,
      layout: { padding: { left: 0, top: T - box.top, right: box.left + box.w - R, bottom: 0 } },
      plugins: {
        legend: { display: false },
        tooltip: { enabled: false },
        inlineLegend: legendPos
      },
      scales: {
        x: {
          type: "linear",
          min: 0.69,
          max: 0.81,
          afterBuildTicks: s => { s.ticks = xTicks.map(v => ({ value: v })); },
          afterFit: s => { s.height = box.top + box.h - B; s.paddingLeft = 0; s.paddingRight = 0; },
          grid: { drawOnChartArea: false, drawTicks: true, tickLength: 4, color: axisColor },
          border: { display: true, color: axisColor, width: 1.2 },
          ticks: {
            autoSkip: false, maxRotation: 0, padding: 3, color: "#1a1a1a", font: font,
            callback: (v, i) => xLabels[i]
          }
        },
        y: {
          type: "linear",
          min: yMin,
          max: yMax,
          afterBuildTicks: s => { s.ticks = yTicks.map(v => ({ value: v })); },
          afterFit: s => { s.width = L - box.left; s.paddingTop = 0; s.paddingBottom = 0; },
          grid: { drawOnChartArea: false, drawTicks: true, tickLength: 3, color: axisColor },
          border: { display: true, color: axisColor, width: 1.2 },
          ticks: {
            autoSkip: false, padding: 1, color: "#1a1a1a", font: font,
            callback: (v, i) => yLabels[i]
          }
        }
      }
    },
    plugins: [inlineLegend]
  });
}

drawPanel("ca", { left: 0, top: 0, w: 395, h: 300, area: [74, 5, 389, 275] },
  [aRed, aBlack, aBlue], -0.10, 0.0925, aTicks, aLabels, { x: 23, y: 18, pitch: 96.5 }, true);
drawPanel("cb", { left: 445, top: 0, w: 410, h: 300, area: [533, 20, 846, 275] },
  [bRed, bBlack, bBlue], -0.015, 0.018, bTicks, bLabels, { x: 22, y: 5, pitch: 91.7 }, false);
drawPanel("cc", { left: 900, top: 0, w: 410, h: 300, area: [993, 22, 1304, 275] },
  [cRed, cBlack, cBlue], -0.03, 0.0252, cTicks, cLabels, { x: 26, y: 4, pitch: 92 }, true);
drawPanel("cd", { left: 200, top: 360, w: 400, h: 302, area: [278, 372, 590, 637] },
  [dRed, dBlack, dBlue], -0.07, 0.0665, dTicks, dLabels, { x: 30, y: 13, pitch: 92 }, true);
drawPanel("ce", { left: 660, top: 360, w: 400, h: 302, area: [736, 370, 1049, 637] },
  [eRed, eBlack, eBlue], -0.175, 0.116, eTicks, eLabels, { x: 26, y: 16, pitch: 92.6 }, true);
</script>
</body>
</html>
